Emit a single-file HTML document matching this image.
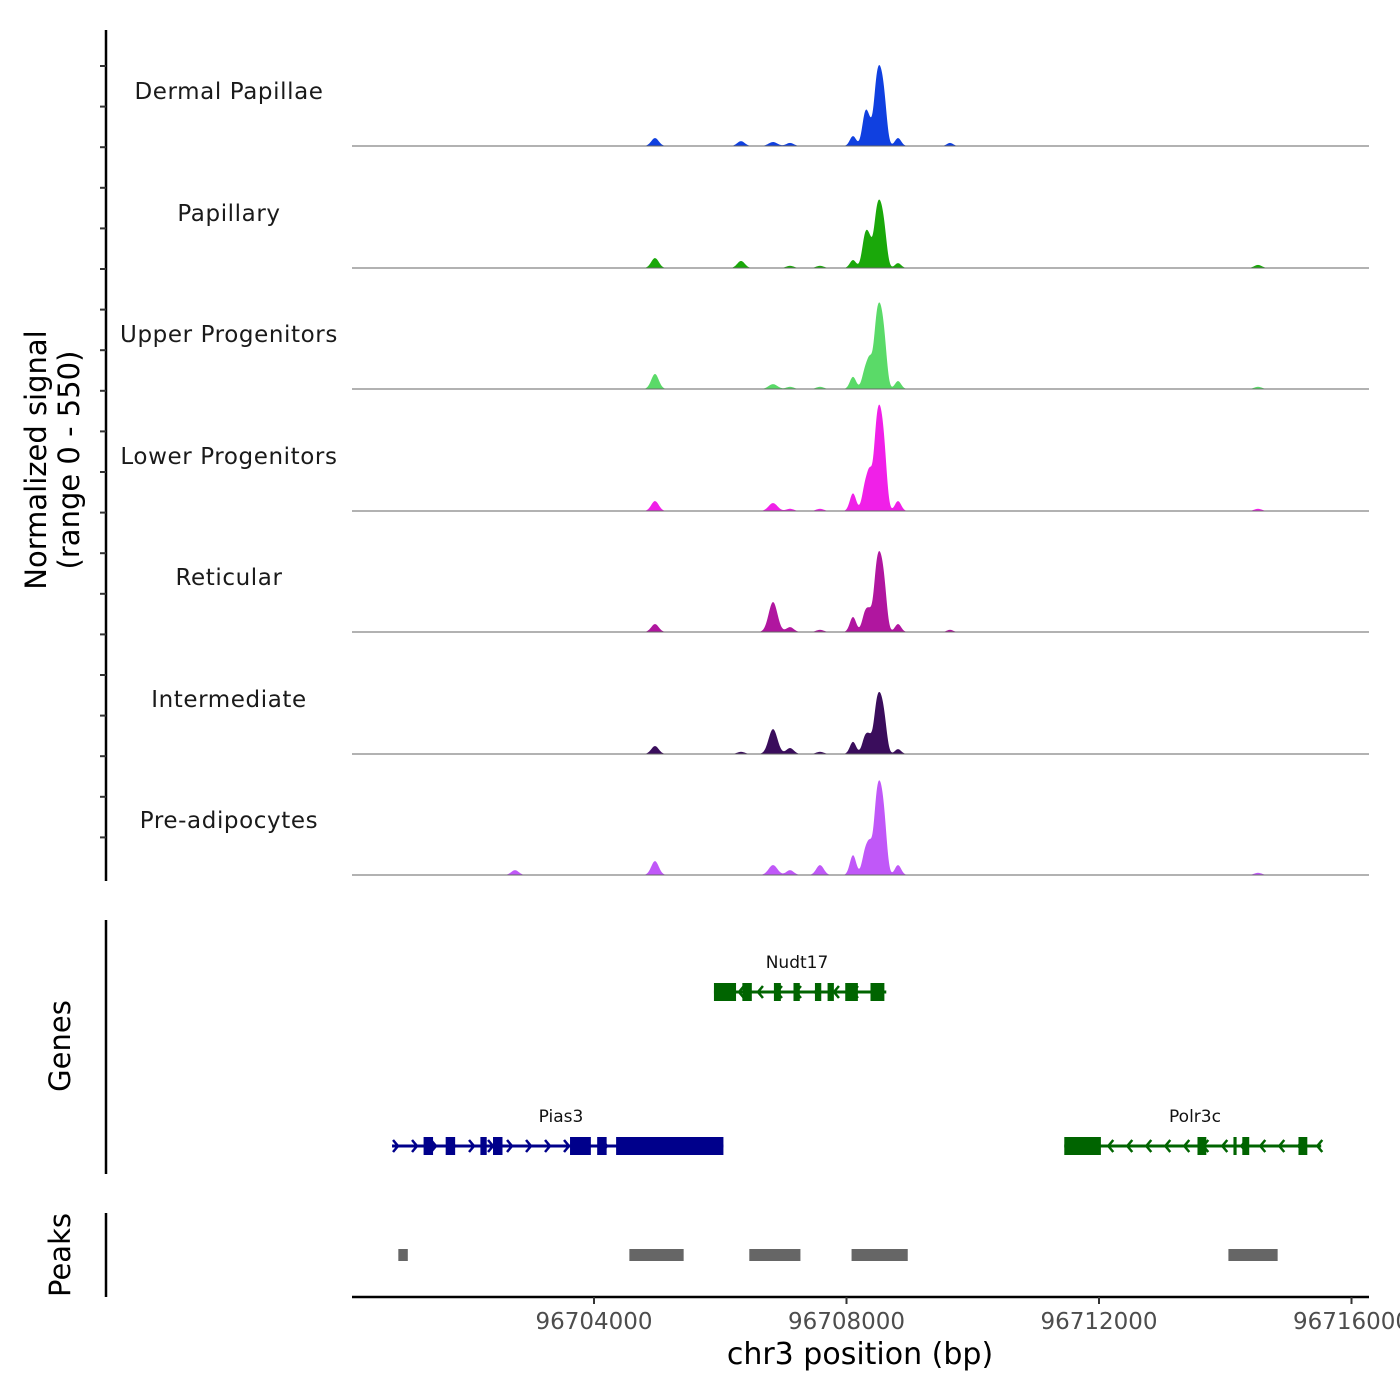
<!DOCTYPE html>
<html><head><meta charset="utf-8"><style>
html,body{margin:0;padding:0;background:#fff;width:1400px;height:1400px;overflow:hidden}
svg text{font-family:"DejaVu Sans","Liberation Sans",sans-serif}
</style></head><body>
<svg id="chart" width="1400" height="1400" viewBox="0 0 1400 1400" xmlns="http://www.w3.org/2000/svg"></svg>
<script>
const trackNames = ["Dermal Papillae","Papillary","Upper Progenitors","Lower Progenitors","Reticular","Intermediate","Pre-adipocytes"];
const trackColors = ["#1040e0","#1aa80a","#5ada68","#f020e8","#b0169f","#3a0d5c","#c058f8"];
const peakCenters = [96702748,96704966,96706329,96706836,96707105,96707580,96708103,96708300,96708372,96708470,96708535,96708600,96708816,96709639,96714519];
const peakWidths = [60,60,60,70,60,60,50,50,40,45,45,45,50,50,60];
const sigDermal = [0,36,22,18,14,0,45,150,60,224,224,170,36,14,0];
const sigPapillary = [0,45,32,0,10,10,36,150,80,190,190,140,22,0,14];
const sigUpper = [0,68,0,22,10,10,55,90,100,240,240,180,36,0,10];
const sigLower = [0,45,0,36,10,10,80,120,130,295,295,220,45,0,10];
const sigReticular = [0,36,0,136,22,10,68,90,60,224,224,170,36,10,0];
const sigIntermediate = [0,36,10,113,27,10,55,80,50,172,172,130,22,0,0];
const sigPreadip = [22,63,0,45,22,45,90,110,100,262,262,200,45,0,10];
const trackSignals = [sigDermal,sigPapillary,sigUpper,sigLower,sigReticular,sigIntermediate,sigPreadip];
const xTicks = [96704000,96708000,96712000,96716000];
const xTickLabels = ["96704000","96708000","96712000","96716000"];
const piasRange = [96700800,96706050];
const piasExons = [[96701300,96701450],[96701650,96701800],[96702200,96702300],[96702400,96702550],[96703620,96703950],[96704050,96704200],[96704350,96706050]];
const nudtRange = [96705900,96708630];
const nudtExons = [[96705900,96706250],[96706350,96706500],[96706850,96706960],[96707160,96707260],[96707500,96707600],[96707700,96707800],[96707980,96708180],[96708380,96708600]];
const polrRange = [96711450,96715520];
const polrExons = [[96711450,96712030],[96713560,96713700],[96714130,96714180],[96714270,96714380],[96715160,96715300]];
const peakRegions = [[96700900,96701050],[96704560,96705420],[96706460,96707270],[96708080,96708970],[96714050,96714830]];

const svg=document.getElementById('chart');
const NS="http://www.w3.org/2000/svg";
function mk(tag,attrs,parent){const e=document.createElementNS(NS,tag);for(const k in attrs)e.setAttribute(k,attrs[k]);(parent||svg).appendChild(e);return e;}
const X0=96700166, PX0=352, BPPX=15.842;
function xs(bp){return PX0+(bp-X0)/BPPX;}
const baselines=[146,268,389,511,632,754,875];
function ys(v,b){return b-v*121/550;}

const la=mk('line',{x1:106,y1:30,x2:106,y2:881,stroke:'#000','stroke-width':2.5});

for(let y=66;y<=878;y+=40.6){const t=mk('line',{x1:100,y1:y,x2:106,y2:y,stroke:'#333','stroke-width':2});}
const yt=mk('text',{x:0,y:0,'font-size':29,'text-anchor':'middle',transform:'translate(52,460) rotate(-90)'});

mk('tspan',{x:0,dy:-6},yt).textContent='Normalized signal';
mk('tspan',{x:0,dy:33},yt).textContent='(range 0 - 550)';

trackNames.forEach((nm,i)=>{
  const b=baselines[i];
  const lab=mk('text',{x:229,y:b-47,'font-size':23,'text-anchor':'middle',fill:'#1a1a1a','letter-spacing':'0.6'});
  lab.textContent=nm;
  let d='M'+PX0+','+b;
  for(let px=PX0;px<=1369;px+=0.5){
    const bp=X0+(px-PX0)*BPPX;let v=0;
    trackSignals[i].forEach((h,k)=>{const z=(bp-peakCenters[k])/peakWidths[k];v+=h*Math.exp(-0.5*z*z);});
    d+=' L'+px+','+ys(Math.min(v,550),b).toFixed(2);
  }
  d+=' L1369,'+b+' Z';
  const a=mk('path',{d:d,fill:trackColors[i]});
  
  const bl=mk('line',{x1:PX0,y1:b,x2:1369,y2:b,stroke:'#666','stroke-width':1});
  
});

const ga=mk('line',{x1:106,y1:920,x2:106,y2:1174,stroke:'#000','stroke-width':2.5});

const gt=mk('text',{x:0,y:0,'font-size':29,'text-anchor':'middle',transform:'translate(70,1046) rotate(-90)'});
gt.textContent='Genes';
function gene(name,range,exons,y,color,strand,lx){
  const g=mk('g',{});
  
  
  mk('line',{x1:xs(range[0]),y1:y,x2:xs(range[1]),y2:y,stroke:color,'stroke-width':3},g);
  const x1=xs(range[0]),x2=xs(range[1]);
  for(let x=x1+6;x<x2;x+=19){const dx=strand>0?5:-5;mk('polyline',{points:(x-dx)+','+(y-6)+' '+x+','+y+' '+(x-dx)+','+(y+6),fill:'none',stroke:color,'stroke-width':2.5},g);}
  exons.forEach(e=>{mk('rect',{x:xs(e[0]),y:y-9,width:Math.max(3,xs(e[1])-xs(e[0])),height:18,fill:color},g);});
  const t=mk('text',{x:lx,y:y-24,'font-size':17,'text-anchor':'middle',fill:'#111'},g);t.textContent=name;
}
gene('Nudt17',nudtRange,nudtExons,992,'#006400',-1,797);
gene('Pias3',piasRange,piasExons,1146,'#00008b',1,561);
gene('Polr3c',polrRange,polrExons,1146,'#006400',-1,1195);

const pa=mk('line',{x1:106,y1:1213,x2:106,y2:1297,stroke:'#000','stroke-width':2.5});

const pt=mk('text',{x:0,y:0,'font-size':29,'text-anchor':'middle',transform:'translate(70,1255) rotate(-90)'});
pt.textContent='Peaks';
peakRegions.forEach(r=>{const p=mk('rect',{x:xs(r[0]),y:1249,width:xs(r[1])-xs(r[0]),height:12,fill:'#666'});});

const xa=mk('line',{x1:PX0,y1:1297,x2:1369,y2:1297,stroke:'#000','stroke-width':2.5});

xTicks.forEach((t,i)=>{
  const x=xs(t);
  const tk=mk('line',{x1:x,y1:1297,x2:x,y2:1304,stroke:'#333','stroke-width':2});
  const tl=mk('text',{x:x,y:1329,'font-size':23,'text-anchor':'middle',fill:'#4d4d4d'});tl.textContent=xTickLabels[i];
});
const xt=mk('text',{x:860,y:1364,'font-size':30,'text-anchor':'middle'});
xt.textContent='chr3 position (bp)';
</script>
</body></html>
